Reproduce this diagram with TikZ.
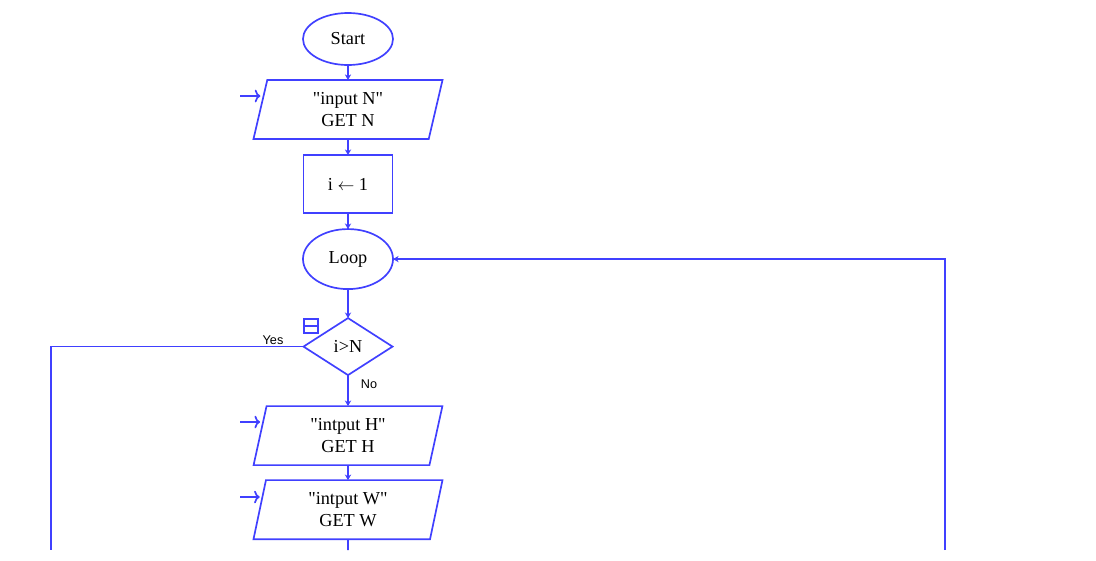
\documentclass[tikz,border=0pt]{standalone}
\usepackage{fontspec}
\setmainfont{Liberation Serif}
\newfontfamily\labelfont{Liberation Sans}
\usetikzlibrary{arrows.meta,positioning,shapes.geometric}
\definecolor{flowblue}{RGB}{64,64,255}

\begin{document}
\begin{tikzpicture}[
        x=0.025cm, y=-0.025cm,
        line width=1.2pt,
        font=\fontsize{13}{15.5}\selectfont,
        every node/.style={outer sep=0pt},
        term/.style={draw=flowblue, ellipse, minimum width=2.25cm, minimum height=1.3cm, inner sep=0pt},
        io/.style={draw=flowblue, trapezium, trapezium left angle=80, trapezium right angle=100, trapezium stretches=true, minimum width=4.75cm, minimum height=1.475cm, align=center, inner sep=0pt},
        proc/.style={draw=flowblue, rectangle, minimum width=2.225cm, minimum height=1.45cm},
        cond/.style={draw=flowblue, diamond, minimum width=2.225cm, minimum height=1.425cm, inner sep=0pt},
        lbl/.style={font=\labelfont\fontsize{9}{10}\selectfont, inner sep=1pt},
        flow/.style={draw=flowblue, -{Stealth[length=4pt, width=4.5pt]}},
        feed/.style={draw=flowblue, -{To[length=4pt, width=9pt]}}
    ]
    \useasboundingbox (0,0) rectangle (1096,560);

    % main column
    \node[term] (start) at (348,39) {Start};
    \node[io, below=0.375cm of start] (inN) {\textquotedbl input N\textquotedbl\\GET N};
    \node[proc, below=0.4cm of inN] (init) {i $\leftarrow$ 1};
    \node[term, minimum height=1.5cm, below=0.4cm of init] (loop) {Loop};
    \node[cond, below=0.725cm of loop] (dec) {i>N};
    \node[io, below=0.775cm of dec] (inH) {\textquotedbl intput H\textquotedbl\\GET H};
    \node[io, below=0.375cm of inH] (inW) {\textquotedbl intput W\textquotedbl\\GET W};

    \draw[flow] (start) -- (inN);
    \draw[flow] (inN) -- (init);
    \draw[flow] (init) -- (loop);
    \draw[flow] (loop) -- (dec);
    \draw[flow] (dec) -- (inH);
    \draw[flow] (inH) -- (inW);

    % input markers
    \coordinate (feedN) at (240,96);
    \coordinate (feedH) at (240,422);
    \coordinate (feedW) at (240,497);
    \draw[feed] (feedN) -- (feedN -| inN.west);
    \draw[feed] (feedH) -- (feedH -| inH.west);
    \draw[feed] (feedW) -- (feedW -| inW.west);

    % branches
    \coordinate (yesEnd) at (51,550);
    \coordinate (wEnd) at (348,550);
    \coordinate (backEnd) at (945,550);
    \draw[draw=flowblue] (dec.west) -| (yesEnd);
    \draw[draw=flowblue] (inW) -- (wEnd);
    \draw[flow] (backEnd) |- (loop.east);
    \node[lbl] (yes) at (273,340) {Yes};
    \node[lbl] (no) at (369,384) {No};

    % collapse box
    \draw[draw=flowblue, line width=0.9pt] (304,319) rectangle (318,333);
    \draw[draw=flowblue, line width=0.9pt] (304,326) -- (318,326);
\end{tikzpicture}
\end{document}
